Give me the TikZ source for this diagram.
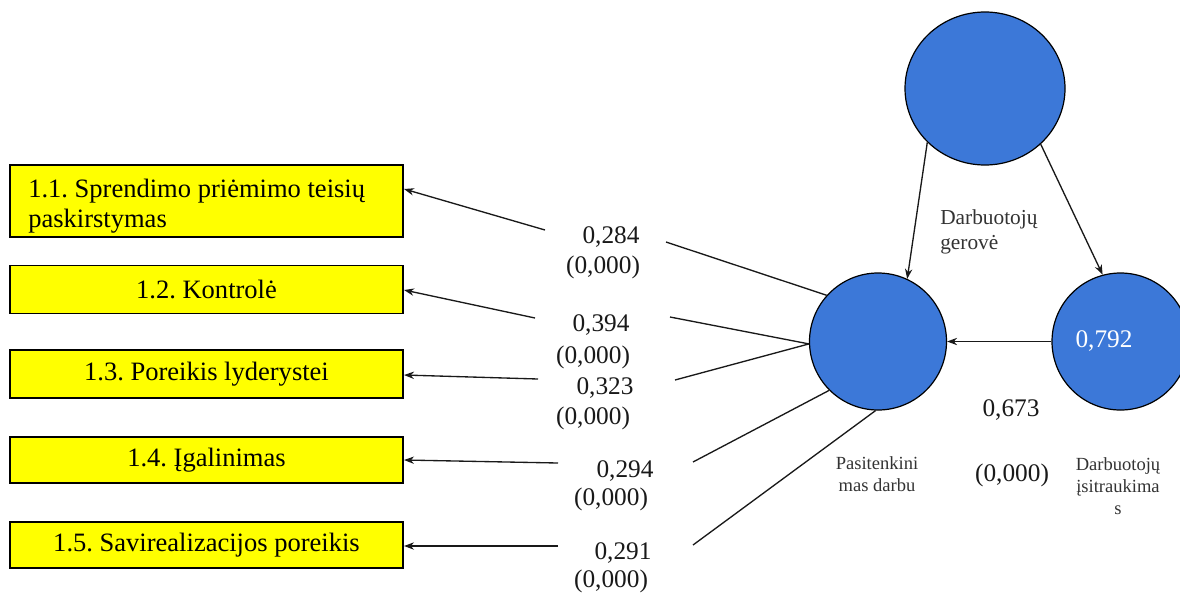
\documentclass[tikz,border=0pt]{standalone}
\usepackage{fontspec}
\setmainfont{LiberationSerif}[Extension=.ttf,UprightFont=*-Regular,BoldFont=*-Bold,ItalicFont=*-Italic,BoldItalicFont=*-BoldItalic]
\usetikzlibrary{shapes.geometric,arrows.meta}
\definecolor{nodeblue}{HTML}{3C78D8}
\definecolor{boxyellow}{HTML}{FFFF00}
\begin{document}
\frenchspacing
\begin{tikzpicture}[x=0.75pt,y=-0.75pt,
  box/.style={draw=black,line width=1pt,fill=boxyellow,minimum width=294.75pt,inner sep=0pt,font=\fontsize{19.9}{21.75}\selectfont},
  lv/.style={circle,draw=black,line width=0.9pt,fill=nodeblue,minimum size=102.75pt,inner sep=0pt},
  coef/.style={font=\fontsize{19}{21}\selectfont,inner sep=0pt,text=black!90},
  small/.style={font=\fontsize{13.9}{16.5}\selectfont,align=center,inner sep=0pt,text=black!80},
  link/.style={line width=1pt,black!90},
  arr/.style={link,-{Stealth[length=7.5pt,width=5.5pt]}}]
\useasboundingbox (0,0) rectangle (1180,593);

% indicator boxes
\node[box,minimum height=54pt] (b1) at (206.5,201) {};
\node[font=\fontsize{19.9}{22}\selectfont,align=left,anchor=west,inner sep=0pt] (b1t) at (28,206) {1.1. Sprendimo priėmimo teisių\\paskirstymas};
\node[box,minimum height=36pt] (b2) at (206.5,289.5) {1.2. Kontrolė};
\node[box,minimum height=36pt] (b3) at (206.5,374) {1.3. Poreikis lyderystei};
\node[box,minimum height=34.5pt] (b4) at (206.5,460) {1.4. Įgalinimas};
\node[box,minimum height=34.5pt] (b5) at (206.5,545) {1.5. Savirealizacijos poreikis};

% latent variables
\node[ellipse,draw=black,line width=0.9pt,fill=nodeblue,minimum width=120pt,minimum height=114.75pt,inner sep=0pt] (c1) at (985,88.5) {};
\node[lv] (c2) at (878,341.5) {};
\node[lv] (c3) at (1120.5,341.5) {};
\node[coef,text=white] (v3) at (1104,341) {0,792};

% coefficient labels
\node[coef] (k1) at (611,237) {0,284};
\node[coef] (k1p) at (603,267) {(0,000)};
\node[coef] (k2) at (601,325) {0,394};
\node[coef] (k2p) at (593,357) {(0,000)};
\node[coef] (k3) at (605,388) {0,323};
\node[coef] (k3p) at (593,418) {(0,000)};
\node[coef] (k4) at (625,471) {0,294};
\node[coef] (k4p) at (611,499) {(0,000)};
\node[coef] (k5) at (623,553) {0,291};
\node[coef] (k5p) at (611,581) {(0,000)};
\node[coef] (k6) at (1011,410) {0,673};
\node[coef] (k6p) at (1012,475) {(0,000)};

% text labels
\node[font=\fontsize{16}{18.75}\selectfont,align=left,anchor=west,inner sep=0pt,text=black!80] (g) at (940,232) {Darbuotojų\\gerovė};
\node[small] (p) at (877,474) {Pasitenkini\\mas darbu};
\node[small] (d) at (1118,486) {Darbuotojų\\įsitraukima\\s};

% free ends of the broken connectors
\coordinate (e1) at (666,242);
\coordinate (s1) at (545,230);
\coordinate (t1) at (404,189);
\coordinate (e2) at (670,317);
\coordinate (s2) at (535,318);
\coordinate (t2) at (404,290);
\coordinate (e3) at (675,380);
\coordinate (s3) at (538,379);
\coordinate (t3) at (404,375);
\coordinate (e4) at (693,462);
\coordinate (s4) at (558,463);
\coordinate (t4) at (404,460);
\coordinate (e5) at (693,545);
\coordinate (s5) at (558,546);
\coordinate (t5) at (404,546);

\draw[link] (c2.138) -- (e1);
\draw[arr] (s1) -- (t1);
\draw[link] (c2.182) -- (e2);
\draw[arr] (s2) -- (t2);
\draw[link] (c2.182) -- (e3);
\draw[arr] (s3) -- (t3);
\draw[link] (c2.225) -- (e4);
\draw[arr] (s4) -- (t4);
\draw[link] (c2.268) -- (e5);
\draw[arr] (s5) -- (t5);

\draw[arr] (c1.223) -- (c2.65);
\draw[arr] (c1.315) -- (c3.105);
\draw[arr] (c3.west) -- (c2.east);
\end{tikzpicture}
\end{document}
